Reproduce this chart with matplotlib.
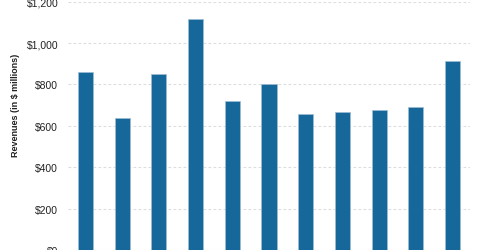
import matplotlib
matplotlib.use('Agg')
import matplotlib.pyplot as plt
import numpy as np

# Revenue per period (in $ millions)
periods = ['P1', 'P2', 'P3', 'P4', 'P5', 'P6', 'P7', 'P8', 'P9', 'P10', 'P11']
revenues = [859, 637, 849, 1117, 722, 804, 656, 667, 675, 690, 912]
y_ticks = [0, 200, 400, 600, 800, 1000, 1200]
y_tick_labels = ['$0', '$200', '$400', '$600', '$800', '$1,000', '$1,200']

plt.rcParams['font.family'] = ['Liberation Sans', 'DejaVu Sans']

fig = plt.figure(figsize=(4.8, 2.51), dpi=100)
ax = fig.add_axes([68 / 480, 0.0, 402 / 480, 1 - 2.7 / 251])

x = np.arange(len(periods))
ax.bar(x, revenues, width=0.41, color='#16679a', edgecolor='#9dbdd6', linewidth=0.5, zorder=3)

ax.set_xlim(-0.48, len(periods) - 1 + 0.48)
ax.set_ylim(0, 1200)
ax.set_yticks(y_ticks)
ax.set_yticklabels(y_tick_labels, fontsize=7.5, color='#222222')
ax.set_xticks([])
ax.tick_params(axis='y', length=0, pad=7)

ax.grid(True, axis='y', color='#dddddd', linestyle=(0, (2.5, 2)), linewidth=0.8, zorder=0)
for s in ax.spines.values():
    s.set_visible(False)

# the label sits above the axes centre (chart is cropped at the bottom)
ax.set_ylabel('Revenues (in $ millions)', fontsize=6.5, fontweight='bold', color='#222222')
ax.yaxis.set_label_coords(-0.119, 0.588)

fig.savefig('out.png', dpi=100)
